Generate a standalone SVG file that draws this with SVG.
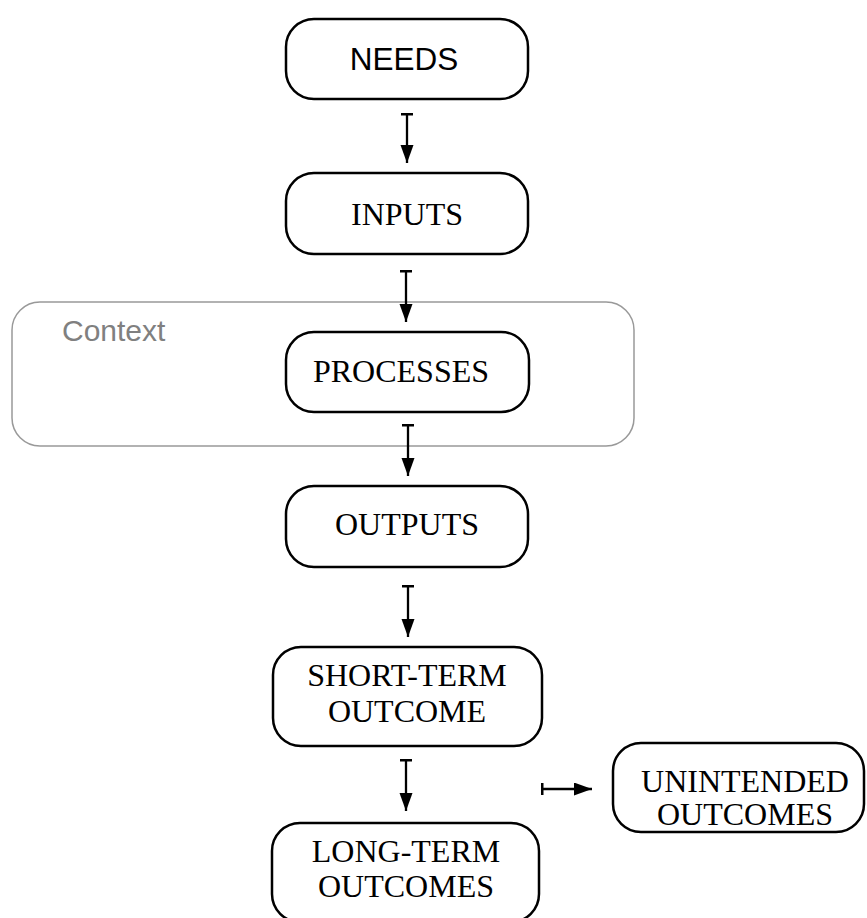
<svg xmlns="http://www.w3.org/2000/svg" width="867" height="918" viewBox="0 0 867 918">
<style>
.node{fill:#fff;stroke:#000;stroke-width:2.5}
.ctx{fill:none;stroke:#999;stroke-width:1.5}
.sans{font-family:"Liberation Sans",Arial,sans-serif;font-size:31.5px;fill:#000;text-anchor:middle}
.serif{font-family:"Liberation Serif","Times New Roman",serif;font-size:32px;fill:#000;text-anchor:middle}
.ctxt{font-family:"Liberation Sans",Arial,sans-serif;font-size:30px;fill:#808080}
.conn{stroke:#000;stroke-width:2.3;fill:none;marker-start:url(#tee);marker-end:url(#head)}
</style>
<defs>
<marker id="head" markerUnits="userSpaceOnUse" markerWidth="19" markerHeight="14" refX="18" refY="6.5" orient="auto" viewBox="0 0 19 14">
<path d="M0,0 L18,6.5 L0,13 z" fill="#000"/>
</marker>
<marker id="tee" markerUnits="userSpaceOnUse" markerWidth="4" markerHeight="14" refX="1.5" refY="6.5" orient="auto" viewBox="0 0 4 14">
<path d="M1.5,0.5 L1.5,12.5" stroke="#000" stroke-width="3"/>
</marker>
</defs>
<g id="context">
<rect class="ctx" x="12" y="302" width="622" height="144" rx="28" ry="28"/>
<text class="ctxt" x="62" y="341">Context</text>
</g>
<g id="connectors">
<path class="conn" d="M407,114 L407,163"/>
<path class="conn" d="M406,271 L406,322"/>
<path class="conn" d="M408,425 L408,476"/>
<path class="conn" d="M408,586 L408,637"/>
<path class="conn" d="M406,760 L406,811"/>
<path class="conn" d="M542,789 L592,789"/>
</g>
<g id="needs">
<rect class="node" x="286" y="19" width="242" height="80" rx="28" ry="28"/>
<text class="sans" x="404" y="70">NEEDS</text>
</g>
<g id="inputs">
<rect class="node" x="286" y="173" width="242" height="81" rx="28" ry="28"/>
<text class="serif" x="407" y="225">INPUTS</text>
</g>
<g id="processes">
<rect class="node" x="286" y="332" width="243" height="80" rx="28" ry="28"/>
<text class="serif" x="401" y="382">PROCESSES</text>
</g>
<g id="outputs">
<rect class="node" x="286" y="486" width="242" height="81" rx="28" ry="28"/>
<text class="serif" x="407" y="535">OUTPUTS</text>
</g>
<g id="short-term">
<rect class="node" x="273" y="647" width="269" height="99" rx="28" ry="28"/>
<text class="serif" x="407" y="686">SHORT-TERM</text>
<text class="serif" x="407" y="722">OUTCOME</text>
</g>
<g id="long-term">
<rect class="node" x="272" y="823" width="267" height="99" rx="28" ry="28"/>
<text class="serif" x="406" y="862">LONG-TERM</text>
<text class="serif" x="406" y="897">OUTCOMES</text>
</g>
<g id="unintended">
<rect class="node" x="613" y="743" width="251" height="89" rx="28" ry="28"/>
<text class="serif" x="745" y="792">UNINTENDED</text>
<text class="serif" x="745" y="825">OUTCOMES</text>
</g>
</svg>
